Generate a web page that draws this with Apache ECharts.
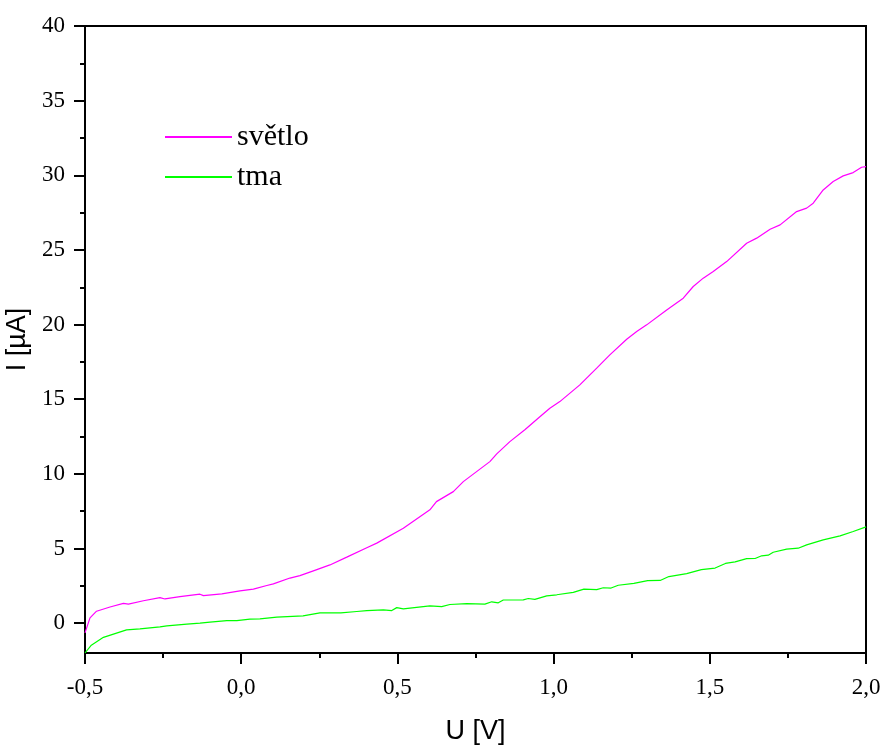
<!DOCTYPE html>
<html>
<head>
<meta charset="utf-8">
<script src="https://cdn.jsdelivr.net/npm/echarts@6/dist/echarts.min.js"></script>
<style>html,body{margin:0;padding:0;background:#fff}#c{width:880px;height:745px}</style>
</head>
<body>
<div id="c"></div>
<script>
var svetloU = [-0.5,-0.484,-0.463,-0.42,-0.377,-0.361,-0.313,-0.26,-0.244,-0.196,-0.132,-0.121,-0.062,-0.004,0.039,0.082,0.103,0.156,0.188,0.231,0.284,0.338,0.402,0.434,0.519,0.604,0.625,0.679,0.711,0.796,0.818,0.86,0.908,0.957,0.988,1.02,1.084,1.138,1.18,1.234,1.266,1.298,1.362,1.415,1.447,1.479,1.511,1.554,1.618,1.65,1.693,1.725,1.778,1.81,1.831,1.863,1.895,1.927,1.959,1.986,2.0];
var svetloI = [-0.65,0.35,0.8,1.08,1.32,1.27,1.5,1.71,1.62,1.78,1.94,1.84,1.96,2.16,2.28,2.52,2.63,3.02,3.18,3.5,3.9,4.42,5.05,5.36,6.36,7.59,8.14,8.81,9.48,10.82,11.34,12.16,12.95,13.84,14.4,14.84,15.96,17.08,17.97,19.02,19.53,19.98,20.98,21.77,22.55,23.11,23.55,24.22,25.45,25.79,26.39,26.68,27.57,27.8,28.13,29.02,29.58,29.96,30.18,30.54,30.58];
var tmaU = [-0.5,-0.481,-0.441,-0.404,-0.367,-0.324,-0.26,-0.238,-0.174,-0.132,-0.1,-0.046,-0.014,0.028,0.06,0.114,0.198,0.252,0.319,0.37,0.402,0.455,0.482,0.498,0.519,0.604,0.642,0.668,0.722,0.78,0.802,0.823,0.839,0.903,0.919,0.94,0.978,1.01,1.063,1.097,1.138,1.159,1.184,1.207,1.257,1.301,1.341,1.369,1.426,1.473,1.517,1.55,1.581,1.618,1.645,1.666,1.687,1.703,1.746,1.783,1.81,1.863,1.917,1.959,2.0];
var tmaI = [-2.0,-1.5,-0.95,-0.7,-0.45,-0.39,-0.25,-0.18,-0.07,0.0,0.07,0.17,0.17,0.27,0.29,0.4,0.49,0.69,0.69,0.78,0.84,0.89,0.84,1.04,0.96,1.16,1.11,1.25,1.31,1.27,1.43,1.36,1.55,1.56,1.65,1.59,1.83,1.9,2.06,2.28,2.25,2.37,2.35,2.54,2.66,2.85,2.86,3.12,3.32,3.58,3.69,4.0,4.1,4.32,4.33,4.51,4.55,4.75,4.96,5.02,5.24,5.58,5.85,6.14,6.45];
var yMajor = [0,5,10,15,20,25,30,35,40];
var yMinor = [2.5,7.5,12.5,17.5,22.5,27.5,32.5,37.5];
var seriesNames = ['světlo','tma'];

function pairs(u, i) { return u.map(function (v, k) { return [v, i[k]]; }); }

var chart = echarts.init(document.getElementById('c'));
var lab = {fontFamily: 'Liberation Serif', fontSize: 23, color: '#000'};
chart.setOption({
  animation: false,
  backgroundColor: '#fff',
  grid: {left: 85, right: 14, top: 26, bottom: 92, show: true, borderColor: '#000', borderWidth: 2,
         containLabel: false, outerBoundsMode: 'none'},
  legend: {
    orient: 'vertical', left: 165, top: 122, padding: 0, itemWidth: 67, itemHeight: 2, itemGap: 10,
    icon: 'rect',
    textStyle: {fontFamily: 'Liberation Serif', fontSize: 30, color: '#000'},
    data: seriesNames
  },
  xAxis: {
    type: 'value', min: -0.5, max: 2.0, interval: 0.5,
    name: 'U [V]', nameLocation: 'middle', nameGap: 65,
    nameTextStyle: {fontFamily: 'Liberation Sans', fontSize: 27, color: '#000'},
    axisLine: {show: true, onZero: false, lineStyle: {color: '#000', width: 2}},
    axisTick: {show: true, inside: false, length: 11, lineStyle: {color: '#000', width: 2}},
    minorTick: {show: true, splitNumber: 2, length: 5, lineStyle: {color: '#000', width: 2}},
    axisLabel: Object.assign({margin: 23, formatter: function (v) { return v.toFixed(1).replace('.', ','); }}, lab),
    splitLine: {show: false}
  },
  yAxis: [{
    type: 'value', min: -2, max: 40,
    name: 'I [µA]', nameLocation: 'middle', nameGap: 49,
    nameTextStyle: {fontFamily: 'Liberation Sans', fontSize: 27, color: '#000'},
    axisLine: {show: true, onZero: false, lineStyle: {color: '#000', width: 2}},
    axisTick: {show: true, inside: false, length: 11, customValues: yMajor, lineStyle: {color: '#000', width: 2}},
    axisLabel: Object.assign({margin: 20, customValues: yMajor}, lab),
    splitLine: {show: false}
  }, {
    type: 'value', min: -2, max: 40, position: 'left',
    axisLine: {show: false, onZero: false},
    axisTick: {show: true, inside: false, length: 5, customValues: yMinor, lineStyle: {color: '#000', width: 2}},
    axisLabel: {show: false},
    splitLine: {show: false}
  }],
  series: [{
    name: seriesNames[0], type: 'line', showSymbol: false, symbol: 'none',
    data: pairs(svetloU, svetloI), color: '#ff00ff',
    lineStyle: {color: '#ff00ff', width: 1.2}
  }, {
    name: seriesNames[1], type: 'line', showSymbol: false, symbol: 'none',
    data: pairs(tmaU, tmaI), color: '#00ff00',
    lineStyle: {color: '#00ff00', width: 1.2}
  }]
});
</script>
</body>
</html>
